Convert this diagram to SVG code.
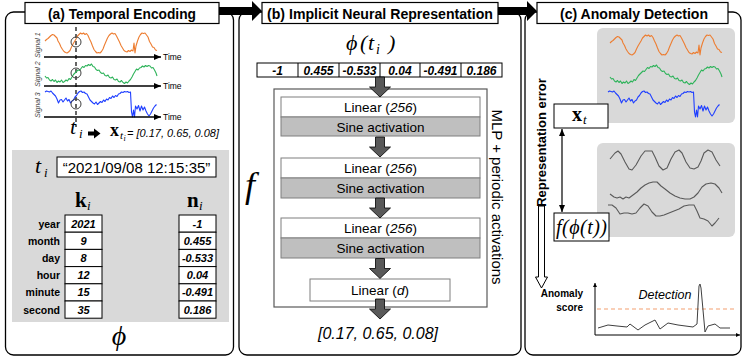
<svg xmlns="http://www.w3.org/2000/svg" width="747" height="359" viewBox="0 0 747 359">
<defs>
<style>
.frame{fill:#fff;stroke:#000;stroke-width:1.3}
.title{fill:#fff;stroke:#000;stroke-width:1.2}
.tt{font-family:"Liberation Sans",Arial,sans-serif;font-weight:bold;font-size:14px;text-anchor:middle}
.sans{font-family:"Liberation Sans",Arial,sans-serif}
.bs{font-family:"Liberation Serif","DejaVu Serif",serif;font-weight:bold}
.m{font-family:"Liberation Serif","DejaVu Serif",serif;font-style:italic}
.cell{fill:#fff;stroke:#000;stroke-width:1}
.lbl{font-family:"Liberation Sans",Arial,sans-serif;font-weight:bold;font-size:10.5px;text-anchor:end}
.val{font-family:"Liberation Sans",Arial,sans-serif;font-weight:bold;font-style:italic;font-size:11px;text-anchor:middle}
.vv{font-family:"Liberation Sans",Arial,sans-serif;font-weight:bold;font-style:italic;font-size:12px;text-anchor:middle}
.lin{fill:#fff;stroke:#7f7f7f;stroke-width:1}
.sin{fill:#bfbfbf;stroke:#7f7f7f;stroke-width:1}
.ltxt{font-family:"Liberation Sans",Arial,sans-serif;font-size:13.5px;text-anchor:middle}
.blue{stroke:#1a2cff;stroke-width:1.3;fill:none}
.sig{fill:none;stroke-width:1.1;stroke-linejoin:round}
.gbox{fill:#d9d9d9}
.axis{stroke:#000;stroke-width:1.5;fill:none}
.time{font-family:"Liberation Sans",Arial,sans-serif;font-size:8.5px}
.slab{font-family:"Liberation Sans",Arial,sans-serif;font-style:italic;font-size:7px;fill:#404040;text-anchor:middle}
</style>
<path id="barrow" d="M-4.5,0 H4.5 V10 H10.5 L0,20 L-10.5,10 H-4.5 Z" fill="#595959" stroke="#000" stroke-width="0.8"/>
<marker id="ab" markerWidth="7" markerHeight="6" refX="7" refY="3" orient="auto" markerUnits="userSpaceOnUse"><path d="M0,0 L7,3 L0,6 Z" fill="#1a2cff"/></marker>
<marker id="ak" markerWidth="7" markerHeight="6" refX="7" refY="3" orient="auto" markerUnits="userSpaceOnUse"><path d="M0,0 L7,3 L0,6 Z" fill="#000"/></marker>
<marker id="ak2" markerWidth="7" markerHeight="6" refX="7" refY="3" orient="auto-start-reverse" markerUnits="userSpaceOnUse"><path d="M0,0 L7,3 L0,6 Z" fill="#000"/></marker>
<marker id="as" markerWidth="4" markerHeight="4" refX="4" refY="2" orient="auto" markerUnits="userSpaceOnUse"><path d="M0,0 L4,2 L0,4 Z" fill="#000"/></marker>
<path id="s1" d="M45,41 L46.5,39.5 L48,38.5 L49.5,37 L51,35.5 L52.5,34.5 L54,35 L55.5,36.5 L57,38 L58,41 L59.5,43.5 L61,47 L62.5,49.5 L64,51.5 L65.5,52.5 L67,53 L68.5,52 L70,50.5 L71.5,47 L73,44 L74.5,41.5 L76,39 L77.5,36 L79,34.5 L80.5,33 L82,34 L83.5,33 L85,34.5 L86.5,33.5 L88,35.5 L89.5,39 L91,42 L92.5,46 L94,49.5 L95.5,51.5 L97,53 L98.5,52.5 L100,53 L101.5,51.5 L103,49 L104.5,45 L106,41.5 L107.5,38 L109,35.5 L110.5,34 L112,33 L113.5,34 L115,33.5 L116.5,36 L118,39 L119.5,42 L121,45.5 L122.5,48 L124,50.5 L125.5,51.5 L127,52 L128.5,50.5 L130,51.5 L131.5,50 L133,51 L134,43 L135,53 L136,46 L137.5,41 L139,37 L140.5,34.5 L142,33 L143.5,33.5 L145,33 L146.5,35 L148,37 L149.5,41.5 L151,44 L152.5,47 L154,47.5 L155.5,50 L157,50.5"/>
<path id="s2" d="M45,76 L46.5,78 L48,77.5 L49.5,80 L51,81 L52.5,79.5 L54,81.5 L55.5,80 L57,82.5 L58.5,81 L60,82 L61.5,80 L63,82.5 L64.5,81.5 L66,80 L67.5,81 L69,78.5 L70.5,79.5 L72,77 L73.5,74.5 L75,73 L76.5,71.5 L78,70 L79.5,70.5 L81,68.5 L82.5,66.5 L84,67.5 L85.5,65.5 L87,66 L88.5,64.5 L90,65.5 L91.5,64 L93,66.5 L94.5,67 L96,69.5 L97.5,70.5 L99,70 L100.5,72.5 L102,73.5 L103.5,73 L105,75.5 L106.5,76 L108,75 L109.5,77.5 L111,78 L112.5,77 L114,79.5 L115.5,80 L117,79 L118.5,81.5 L120,82 L121.5,80.5 L123,82.5 L124.5,83.5 L126,82 L127.5,83 L129,81 L130.5,79.5 L132,77 L133.5,74 L135,71.5 L136.5,69 L138,70 L139.5,68 L141,67.5 L142.5,66 L144,67 L145.5,65.5 L147,66.5 L148.5,65.5 L150,66 L151.5,68 L153,67.5 L154.5,70 L156,73 L157,76"/>
<path id="s3" d="M45,92 L46.5,91 L48,91.5 L49.5,92 L51,91 L52.5,93 L54,94.5 L55.5,96 L57,99 L58.5,103 L60,100 L61.5,99.5 L63,102 L64.5,100 L66,98 L67.5,101 L69,99.5 L70.5,103 L72,101 L73.5,100 L75,97 L76.5,95.5 L78,93 L79.5,91.5 L81,91 L82.5,92.5 L84,92 L85.5,93.5 L87,94 L88.5,97 L90,100 L91.5,101.5 L93,103 L94.5,104 L96,102 L97.5,104.5 L99,103 L100.5,101.5 L102,102.5 L103.5,100 L105,101.5 L106.5,99 L108,100 L109.5,97.5 L111,98.5 L112.5,96 L114,97.5 L115.5,95.5 L117,96.5 L118.5,94 L120,93.5 L121.5,92 L123,92.5 L124.5,91.5 L126,92 L127.5,91.5 L129,92.5 L130.5,92 L131.5,112 L132.5,117 L133.5,110 L134.5,117 L135.5,106 L137,109 L138.5,105.5 L140,111 L141.5,106 L143,110 L144.5,107 L146,111 L147.5,114 L149,116 L150.5,114 L152,111 L153.5,108 L155,106 L156.5,104.5"/>
<path id="g1" d="M45,42 L50,36 L53,34 L56,37 L60,45 L64,52 L67,53 L71,48 L76,39 L80,34 L84,34 L87,34 L90,40 L94,49 L98,53 L102,51 L106,42 L110,35 L114,33 L117,36 L121,45 L125,51 L129,52 L133,50 L136,44 L139,36 L143,33 L147,35 L151,43 L155,49"/>
<path id="g2" d="M45,77 L49,80 L52,81 L55,80 L58,82 L61,80 L64,81 L68,78 L72,75 L76,71 L80,68 L84,66 L88,65 L92,65 L96,69 L100,72 L105,76 L110,79 L115,81 L120,82 L125,82 L129,80 L133,76 L137,70 L141,67 L146,66 L150,67 L154,71 L157,76"/>
<path id="g3" d="M45,92 L49,92 L53,95 L57,101 L61,100 L65,100 L69,101 L73,100 L77,95 L81,91 L85,93 L89,99 L93,103 L97,103 L101,102 L106,100 L111,98 L116,96 L121,93 L126,92 L131,92 L134,98 L137,105 L141,106 L145,108 L149,113 L152,110 L156,105"/>
</defs>

<rect width="747" height="359" fill="#fff"/>

<!-- panel frames -->
<g id="panel-a-frame"><rect class="frame" x="5.5" y="12" width="228" height="343" rx="8"/></g>
<g id="panel-b-frame"><rect class="frame" x="239" y="12" width="282" height="343" rx="8"/></g>
<g id="panel-c-frame"><rect class="frame" x="525" y="12" width="216" height="343" rx="8"/></g>

<!-- connectors -->
<g id="connectors">
  <polygon points="218,7 252,7 252,1 262,11 252,21 252,15 218,15" fill="#000"/>
  <polygon points="498,7 527,7 527,1 537,11 527,21 527,15 498,15" fill="#000"/>
  <line class="blue" x1="79" y1="177" x2="79" y2="190" marker-end="url(#ab)"/>
  <line class="blue" x1="102" y1="223.6" x2="179" y2="223.6" marker-end="url(#ab)"/>
  <line class="blue" x1="102" y1="240.8" x2="179" y2="240.8" marker-end="url(#ab)"/>
  <line class="blue" x1="102" y1="258" x2="179" y2="258" marker-end="url(#ab)"/>
  <line class="blue" x1="102" y1="275.2" x2="179" y2="275.2" marker-end="url(#ab)"/>
  <line class="blue" x1="102" y1="292.4" x2="179" y2="292.4" marker-end="url(#ab)"/>
  <line class="blue" x1="102" y1="309.6" x2="179" y2="309.6" marker-end="url(#ab)"/>
  <line x1="562" y1="129" x2="562" y2="212" stroke="#000" stroke-width="1.2" marker-start="url(#ak2)" marker-end="url(#ak2)"/>
  <path d="M538.5,206 V277 H535.5 L541.5,288 L547.5,277 H544.5 V206 Z" fill="#fff" stroke="#000" stroke-width="1"/>
</g>

<!-- titles -->
<g id="title-a"><rect class="title" x="25" y="2.5" width="194" height="21"/><text class="tt" x="122" y="18.5" textLength="148" lengthAdjust="spacingAndGlyphs">(a) Temporal Encoding</text></g>
<g id="title-b"><rect class="title" x="262" y="2.5" width="236" height="21"/><text class="tt" x="380" y="18.5" textLength="226" lengthAdjust="spacingAndGlyphs">(b) Implicit Neural Representation</text></g>
<g id="title-c"><rect class="title" x="537" y="2.5" width="191" height="21"/><text class="tt" x="634" y="18.5" textLength="148" lengthAdjust="spacingAndGlyphs">(c) Anomaly Detection</text></g>

<!-- panel a: signals -->
<g id="signals-a">
  <line x1="76" y1="27" x2="76" y2="127" stroke="#000" stroke-width="1.2" stroke-dasharray="4,3"/>
  <use href="#s1" class="sig" stroke="#ed7d31"/>
  <use href="#s2" class="sig" stroke="#2eb35a"/>
  <use href="#s3" class="sig" stroke="#1f3fff"/>
  <line class="axis" x1="44" y1="57" x2="161" y2="57" marker-end="url(#ak)"/>
  <line class="axis" x1="44" y1="86" x2="161" y2="86" marker-end="url(#ak)"/>
  <line class="axis" x1="44" y1="117" x2="161" y2="117" marker-end="url(#ak)"/>
  <text class="time" x="163" y="60">Time</text>
  <text class="time" x="163" y="89">Time</text>
  <text class="time" x="163" y="120">Time</text>
  <text class="slab" transform="translate(40,45) rotate(-90)">Signal 1</text>
  <text class="slab" transform="translate(40,74) rotate(-90)">Signal 2</text>
  <text class="slab" transform="translate(40,105) rotate(-90)">Signal 3</text>
  <circle cx="76" cy="42" r="5" fill="none" stroke="#404040" stroke-width="1"/>
  <circle cx="76" cy="73" r="5" fill="none" stroke="#404040" stroke-width="1"/>
  <circle cx="76" cy="104" r="5" fill="none" stroke="#404040" stroke-width="1"/>
</g>
<g id="sample-eq">
  <text class="m" font-size="22" x="70" y="134">t</text>
  <text class="m" font-size="13" x="79" y="138">i</text>
  <path d="M88,131.5 H94 V128.5 L100.5,133.5 L94,138.5 V135.5 H88 Z" fill="#000"/>
  <text class="bs" font-size="18" x="110" y="136">x</text>
  <text class="m" font-size="11" x="120" y="139">t</text>
  <text class="m" font-size="8" x="123.5" y="141">i</text>
  <text class="sans" font-style="italic" font-size="11" x="127" y="137">= [0.17, 0.65, 0.08]</text>
</g>

<!-- panel a: encoding box -->
<g id="encoding-box">
  <rect class="gbox" x="12" y="150" width="217" height="172"/>
  <text class="m" font-size="22" x="35" y="173">t</text>
  <text class="m" font-size="13" x="44" y="177">i</text>
  <rect class="cell" x="57" y="157" width="159" height="20"/>
  <text class="sans" font-size="15" x="136.5" y="172.5" text-anchor="middle">“2021/09/08 12:15:35”</text>
  <text class="bs" font-size="21" x="75" y="207">k</text>
  <text class="m" font-size="13" x="87" y="210">i</text>
  <text class="bs" font-size="21" x="187" y="207">n</text>
  <text class="m" font-size="13" x="199" y="210">i</text>
</g>
<g id="table-k">
  <rect class="cell" x="65" y="215" width="37" height="17.2"/>
  <rect class="cell" x="65" y="232.2" width="37" height="17.2"/>
  <rect class="cell" x="65" y="249.4" width="37" height="17.2"/>
  <rect class="cell" x="65" y="266.6" width="37" height="17.2"/>
  <rect class="cell" x="65" y="283.8" width="37" height="17.2"/>
  <rect class="cell" x="65" y="301" width="37" height="17.2"/>
  <text class="lbl" x="60" y="227.5">year</text>
  <text class="lbl" x="60" y="244.7">month</text>
  <text class="lbl" x="60" y="261.9">day</text>
  <text class="lbl" x="60" y="279.1">hour</text>
  <text class="lbl" x="60" y="296.3">minute</text>
  <text class="lbl" x="60" y="313.5">second</text>
  <text class="val" x="83.5" y="227.6">2021</text>
  <text class="val" x="83.5" y="244.8">9</text>
  <text class="val" x="83.5" y="262">8</text>
  <text class="val" x="83.5" y="279.2">12</text>
  <text class="val" x="83.5" y="296.4">15</text>
  <text class="val" x="83.5" y="313.6">35</text>
</g>
<g id="table-n">
  <rect class="cell" x="179" y="215" width="37" height="17.2"/>
  <rect class="cell" x="179" y="232.2" width="37" height="17.2"/>
  <rect class="cell" x="179" y="249.4" width="37" height="17.2"/>
  <rect class="cell" x="179" y="266.6" width="37" height="17.2"/>
  <rect class="cell" x="179" y="283.8" width="37" height="17.2"/>
  <rect class="cell" x="179" y="301" width="37" height="17.2"/>
  <text class="val" x="197.5" y="227.6">-1</text>
  <text class="val" x="197.5" y="244.8">0.455</text>
  <text class="val" x="197.5" y="262">-0.533</text>
  <text class="val" x="197.5" y="279.2">0.04</text>
  <text class="val" x="197.5" y="296.4">-0.491</text>
  <text class="val" x="197.5" y="313.6">0.186</text>
</g>
<g id="phi-label"><text class="m" font-size="28" x="119" y="345" text-anchor="middle">ϕ</text></g>

<!-- panel b -->
<g id="phi-ti">
  <text class="m" font-size="22" y="50"><tspan x="346">ϕ</tspan><tspan x="360">(</tspan><tspan x="368">t</tspan></text>
  <text class="m" font-size="14" x="376" y="54">i</text>
  <text class="m" font-size="22" x="388" y="50">)</text>
</g>
<g id="vector">
  <rect class="cell" x="257" y="63" width="245" height="14"/>
  <line x1="298" y1="63" x2="298" y2="77" stroke="#000"/>
  <line x1="339" y1="63" x2="339" y2="77" stroke="#000"/>
  <line x1="380" y1="63" x2="380" y2="77" stroke="#000"/>
  <line x1="420" y1="63" x2="420" y2="77" stroke="#000"/>
  <line x1="461" y1="63" x2="461" y2="77" stroke="#000"/>
  <text class="vv" x="277.5" y="74.5">-1</text>
  <text class="vv" x="318.5" y="74.5">0.455</text>
  <text class="vv" x="359.5" y="74.5">-0.533</text>
  <text class="vv" x="400" y="74.5">0.04</text>
  <text class="vv" x="440.5" y="74.5">-0.491</text>
  <text class="vv" x="481.5" y="74.5">0.186</text>
</g>
<g id="mlp">
  <rect x="274" y="89" width="213" height="218" fill="#fff" stroke="#595959" stroke-width="1.2"/>
  <text class="sans" font-size="15" transform="translate(492,197) rotate(90)" text-anchor="middle">MLP + periodic activations</text>
</g>
<g id="layer1">
  <rect class="lin" x="281" y="97" width="199" height="20"/>
  <text class="ltxt" x="380.5" y="112">Linear (<tspan font-style="italic">256</tspan>)</text>
  <rect class="sin" x="281" y="117" width="199" height="19"/>
  <text class="ltxt" x="380.5" y="131.5">Sine activation</text>
</g>
<g id="layer2">
  <rect class="lin" x="281" y="158" width="199" height="20"/>
  <text class="ltxt" x="380.5" y="173">Linear (<tspan font-style="italic">256</tspan>)</text>
  <rect class="sin" x="281" y="178" width="199" height="20"/>
  <text class="ltxt" x="380.5" y="193">Sine activation</text>
</g>
<g id="layer3">
  <rect class="lin" x="281" y="218" width="199" height="20"/>
  <text class="ltxt" x="380.5" y="233">Linear (<tspan font-style="italic">256</tspan>)</text>
  <rect class="sin" x="281" y="238" width="199" height="20"/>
  <text class="ltxt" x="380.5" y="253">Sine activation</text>
</g>
<g id="layer-out">
  <rect class="lin" x="310" y="279" width="140" height="22"/>
  <text class="ltxt" x="380" y="295">Linear (<tspan font-style="italic">d</tspan>)</text>
</g>
<g id="block-arrows">
  <use href="#barrow" transform="translate(380,77)"/>
  <use href="#barrow" transform="translate(380,137)"/>
  <use href="#barrow" transform="translate(380,198)"/>
  <use href="#barrow" transform="translate(380,258.5)"/>
  <use href="#barrow" transform="translate(380,299)"/>
</g>
<g id="f-label"><text class="m" font-size="36" x="245" y="197">f</text></g>
<g id="output-b"><text class="sans" font-style="italic" font-size="16" x="378" y="339" text-anchor="middle">[0.17, 0.65, 0.08]</text></g>

<!-- panel c -->
<g id="signals-c">
  <rect class="gbox" x="597" y="28" width="138" height="95" rx="6"/>
  <use href="#s1" class="sig" stroke="#ed7d31" transform="translate(565,2)"/>
  <use href="#s2" class="sig" stroke="#2eb35a" transform="translate(565,1)"/>
  <use href="#s3" class="sig" stroke="#1f3fff" transform="translate(563,0)"/>
</g>
<g id="recon-c">
  <rect class="gbox" x="597" y="143" width="138" height="94" rx="6"/>
  <use href="#g1" class="sig" stroke="#595959" transform="translate(565,117)"/>
  <use href="#g2" class="sig" stroke="#595959" transform="translate(565,117)"/>
  <use href="#g3" class="sig" stroke="#595959" transform="translate(563,113)"/>
</g>
<g id="xt-box">
  <rect class="cell" x="554" y="104" width="54" height="24"/>
  <text class="bs" font-size="20" x="572" y="121">x</text>
  <text class="m" font-size="13" x="583" y="124">t</text>
</g>
<g id="f-box">
  <rect class="cell" x="554" y="213" width="55" height="28"/>
  <text class="m" font-size="20" x="556" y="234" textLength="51" lengthAdjust="spacing">f(ϕ(t))</text>
</g>
<g id="rep-error"><text class="sans" font-weight="bold" font-size="13" transform="translate(546,142.5) rotate(-90)" text-anchor="middle">Representation error</text></g>
<g id="anomaly-label">
  <text class="sans" font-weight="bold" font-size="10" x="583" y="297" text-anchor="end">Anomaly</text>
  <text class="sans" font-weight="bold" font-size="10" x="583" y="311" text-anchor="end">score</text>
</g>
<g id="score-plot">
  <line x1="595" y1="335" x2="595" y2="283" stroke="#000" stroke-width="1" marker-end="url(#as)"/>
  <line x1="595" y1="335" x2="740" y2="335" stroke="#000" stroke-width="1" marker-end="url(#as)"/>
  <line x1="597" y1="309" x2="736" y2="309" stroke="#f4a070" stroke-width="1.2" stroke-dasharray="4,3"/>
  <polyline points="598,328 608,325 617,326 627,327 630,324 638,330 645,325 655,320 660,329 668,323 678,325 693,327 697,324 699,286 700,284 701,288 705,332 708,326 715,324 720,328 730,328" fill="none" stroke="#404040" stroke-width="1"/>
  <text class="sans" font-style="italic" font-size="12.5" x="665" y="299" text-anchor="middle">Detection</text>
</g>
</svg>
